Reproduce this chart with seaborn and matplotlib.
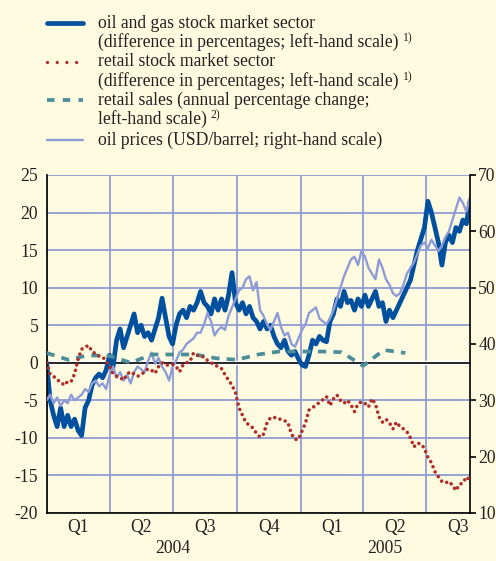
import numpy as np
import pandas as pd
import matplotlib
matplotlib.use("Agg")
import matplotlib.pyplot as plt
from matplotlib.lines import Line2D
import seaborn as sns

# values, evenly spaced from 2004-01-01 to 2005-09-02
oil_gas = [0, -5, -7, -8.5, -6, -8.5, -7, -8.5, -7.5, -9, -9.7, -6, -5, -3, -2, -1.5,
           -2, -1, 1, -0.5, 3, 4.5, 2, 3.5, 5, 6.5, 4, 5, 3.5, 4, 3, 4.5, 6, 8.6, 6,
           3.5, 2.5, 5, 6.5, 7, 6, 7.5, 7, 8, 9.5, 8, 7.5, 6.5, 8.5, 7, 8.5, 7, 9, 12,
           8, 7, 8, 6.5, 7.5, 6, 5.5, 4.5, 5.5, 4.5, 5, 3.5, 2.5, 2, 3, 1.5, 1, 1.5,
           0.5, -0.3, -0.5, 1, 3, 2.5, 3.5, 3, 2.8, 5.5, 6.5, 8.5, 7.5, 9.5, 8, 8.3, 7,
           8.5, 7.5, 9, 7.5, 8.5, 9.5, 7.5, 8, 5.5, 7, 6, 7, 8, 9, 10, 11, 13, 15, 16.5,
           18, 21.5, 20, 18, 16, 13, 16, 17, 16, 18, 17.5, 19, 18.5, 21.5]

retail_stock = [0, -1.5, -1.8, -2.3, -2.5, -3, -2.5, -2.5, -1.5, 0.5, 1.8, 2.1, 2.3, 1.5,
                1.2, 0.9, 0.8, 0.2, -0.5, -1.5, -1.8, -2.0, -2.3, -1.5, -1.2, -1.5, -1.8,
                -1.6, -1.2, -0.8, -1.0, -1.4, -0.5, 0.0, -0.3, -0.3, -0.2, -0.5, -1.2,
                -0.3, 0.0, 0.2, 1.3, 1.0, 0.8, 0.8, 0.3, 0.0, -0.3, -0.5, -0.8, -1.6,
                -2.3, -3.0, -4.0, -6.0, -7.0, -8.0, -8.3, -8.7, -9.4, -9.9, -9.5, -8.0,
                -7.3, -7.3, -7.3, -7.6, -7.7, -8.0, -9.5, -10.2, -10.2, -9.1, -8.0, -6.3,
                -6.0, -5.6, -5.3, -4.9, -4.5, -5.7, -4.8, -4.3, -5.0, -5.4, -5.0, -5.6,
                -6.5, -5.5, -5.2, -5.4, -5.9, -4.8, -5.5, -7.2, -7.9, -7.5, -8.0, -8.8,
                -7.9, -8.5, -8.8, -9.2, -10.0, -11.2, -10.7, -10.8, -11.4, -12.6, -13.3,
                -14.5, -15.2, -15.8, -16.0, -15.8, -16.3, -17.0, -16.2, -16.0, -15.2, -15.6]

oil_price = [30, 31, 29.5, 30.5, 29, 30, 29.5, 31, 30, 30.5, 31, 32, 31.5, 33, 33.5, 32.5,
             33, 32, 34.5, 36, 34, 35, 33.5, 34.5, 33, 35, 36, 35.5, 35, 37, 38.5, 36.5,
             37.5, 36, 35, 33.5, 36, 37, 38.5, 39, 40, 40.5, 41, 42, 42, 43.5, 45.5, 44,
             41.5, 42.5, 43, 42.5, 45, 46.5, 48, 49.5, 50, 51.5, 52, 49.5, 51, 46, 45,
             43.5, 42.5, 44, 45.5, 43, 41.5, 42, 40, 39.5, 41, 42.5, 43.5, 45.5, 46, 46.5,
             44.5, 44, 43.5, 44.5, 46, 48, 50, 52, 53.5, 55, 55.5, 54, 56.5, 55.5, 53.5,
             52.5, 51.5, 55, 53.5, 51.5, 50.5, 49, 48.5, 49, 50.5, 52.5, 53.5, 54.5, 56,
             57.5, 58, 57, 58.5, 57.5, 56.5, 57.5, 59, 60, 62, 64, 66, 65, 63.5, 66]

# monthly, Jan 2004 - Jun 2005
retail_sales = [1.3, 0.4, 1.0, 0.9, 0.0, 1.1, 1.1, 1.1, 0.6, 0.4, 1.1, 1.5, 1.5, 1.5,
                1.4, -0.4, 1.7, 1.3]

quarters = ["Q1", "Q2", "Q3", "Q4", "Q1", "Q2", "Q3"]
years = ["2004", "2005"]

legend_rows = [
    ["oil and gas stock market sector",
     "(difference in percentages; left-hand scale)", "1)"],
    ["retail stock market sector",
     "(difference in percentages; left-hand scale)", "1)"],
    ["retail sales (annual percentage change;",
     "left-hand scale)", "2)"],
    ["oil prices (USD/barrel; right-hand scale)"],
]

bg = "#FFFBE0"
grid_c = "#8E9CD4"
dark = "#0050A0"
light = "#8D9CD6"
red = "#AE2E2A"
teal = "#4B8D9B"
txt = "#231F20"
fs = 12.7

sns.set_style("white")
plt.rcParams["font.family"] = ["Liberation Serif", "DejaVu Serif"]
plt.rcParams["axes.unicode_minus"] = False

start = pd.Timestamp("2004-01-01")
end = pd.Timestamp("2005-09-02")

daily = pd.DataFrame({
    "date": pd.date_range(start, end, periods=len(oil_gas)),
    "oil_gas": oil_gas,
})
retail_df = pd.DataFrame({
    "date": pd.date_range(start, end, periods=len(retail_stock)),
    "retail": retail_stock,
})
price_df = pd.DataFrame({
    "date": pd.date_range(start, end, periods=len(oil_price)),
    "price": oil_price,
})
sales_df = pd.DataFrame({
    "date": pd.date_range(start, periods=len(retail_sales), freq="MS"),
    "sales": retail_sales,
})

fig = plt.figure(figsize=(4.96, 5.61), dpi=100, facecolor=bg)
ax = fig.add_axes([0.094, 0.0856, 0.8534, 0.6025])
ax.set_facecolor(bg)
ax2 = ax.twinx()
ax3 = ax.twinx()

ax.axhline(0, color="white", lw=3.2, zorder=1.4)
ax.axhline(0, color="black", lw=1.2, zorder=1.5)
sns.lineplot(data=daily, x="date", y="oil_gas", ax=ax, color=dark, lw=3.4)
sns.lineplot(data=price_df, x="date", y="price", ax=ax2, color=light, lw=1.7)
sns.lineplot(data=sales_df, x="date", y="sales", ax=ax3, color=teal, lw=2.7)
ax3.lines[-1].set_linestyle((0, (2.2, 1.9)))
sns.lineplot(data=retail_df, x="date", y="retail", ax=ax3, color=red, lw=2.6)
ax3.lines[-1].set_linestyle((0, (0.01, 1.55)))
ax3.lines[-1].set_dash_capstyle("round")

for a in (ax, ax3):
    a.set_ylim(-20, 25)
ax2.set_ylim(10, 70)
ax.set_xlim(start, end)

bounds = pd.date_range(start, "2005-07-01", freq="QS")
nxt = pd.date_range("2004-04-01", "2005-10-01", freq="QS")
mids = [b + (n - b) / 2 for b, n in zip(bounds, nxt)]

ax.set_xticks(bounds)
ax.set_xticklabels([])
ax.set_xticks(mids, minor=True)
ax.set_xticklabels(quarters, minor=True)
ax.tick_params(axis="x", which="major", length=4, width=1.2, color="black", direction="out")
ax.tick_params(axis="x", which="minor", length=0, pad=4, labelsize=fs, labelcolor=txt)
ax.set_yticks(range(-20, 26, 5))
ax.tick_params(axis="y", length=0, pad=6, labelsize=fs, labelcolor=txt)
ax.grid(True, which="major", color=grid_c, lw=1.3)
ax.set_axisbelow(True)
ax.set_xlabel("")
ax.set_ylabel("")

ax2.set_yticks(range(10, 71, 10))
ax2.tick_params(axis="y", length=4, width=1.2, direction="out", pad=2,
                labelsize=fs, labelcolor=txt, color="black")
ax2.set_ylabel("")
ax3.set_ylabel("")
ax3.set_yticks([])
ax3.tick_params(axis="y", length=0, labelright=False)

for s in ax.spines.values():
    s.set_visible(False)
ax.spines["left"].set_visible(True)
ax.spines["bottom"].set_visible(True)
for s in ("left", "bottom"):
    ax.spines[s].set_color("black")
    ax.spines[s].set_linewidth(1.2)
for s in ax2.spines.values():
    s.set_visible(False)
ax2.spines["right"].set_visible(True)
ax2.spines["right"].set_color("black")
ax2.spines["right"].set_linewidth(1.2)
for s in ax3.spines.values():
    s.set_visible(False)

year_mids = [pd.Timestamp("2004-07-01"), pd.Timestamp("2005-01-01") + (end - pd.Timestamp("2005-01-01")) / 2]
for ym, yl in zip(year_mids, years):
    ax.text(ym, -0.104, yl, transform=ax.get_xaxis_transform(), ha="center",
            va="center", fontsize=fs, color=txt)

# legend drawn by hand, figure pixel positions
W, H = 496, 561
def fx(px):
    return px / W
def fy(py):
    return 1 - py / H

handles = [
    dict(color=dark, lw=3.4, ls="-"),
    dict(color=red, lw=2.4, ls=(0, (0.01, 2.9)), dash_capstyle="round"),
    dict(color=teal, lw=2.7, ls=(0, (2.0, 2.2))),
    dict(color=light, lw=1.7, ls="-"),
]
row_y = [23, 62, 100, 140]
for hy, hk in zip(row_y, handles):
    fig.add_artist(Line2D([fx(47), fx(83)], [fy(hy), fy(hy)], transform=fig.transFigure, **hk))

fig.canvas.draw()
renderer = fig.canvas.get_renderer()
for hy, row in zip(row_y, legend_rows):
    fig.text(fx(98), fy(hy), row[0], ha="left", va="center", fontsize=fs, color=txt)
    if len(row) > 1:
        t = fig.text(fx(98), fy(hy + 19), row[1], ha="left", va="center", fontsize=fs, color=txt)
        bb = t.get_window_extent(renderer)
        fig.text((bb.x1 + 4) / W, fy(hy + 15), row[2], ha="left", va="center",
                 fontsize=8.5, color=txt)

fig.savefig("out.png", dpi=100, facecolor=bg)
